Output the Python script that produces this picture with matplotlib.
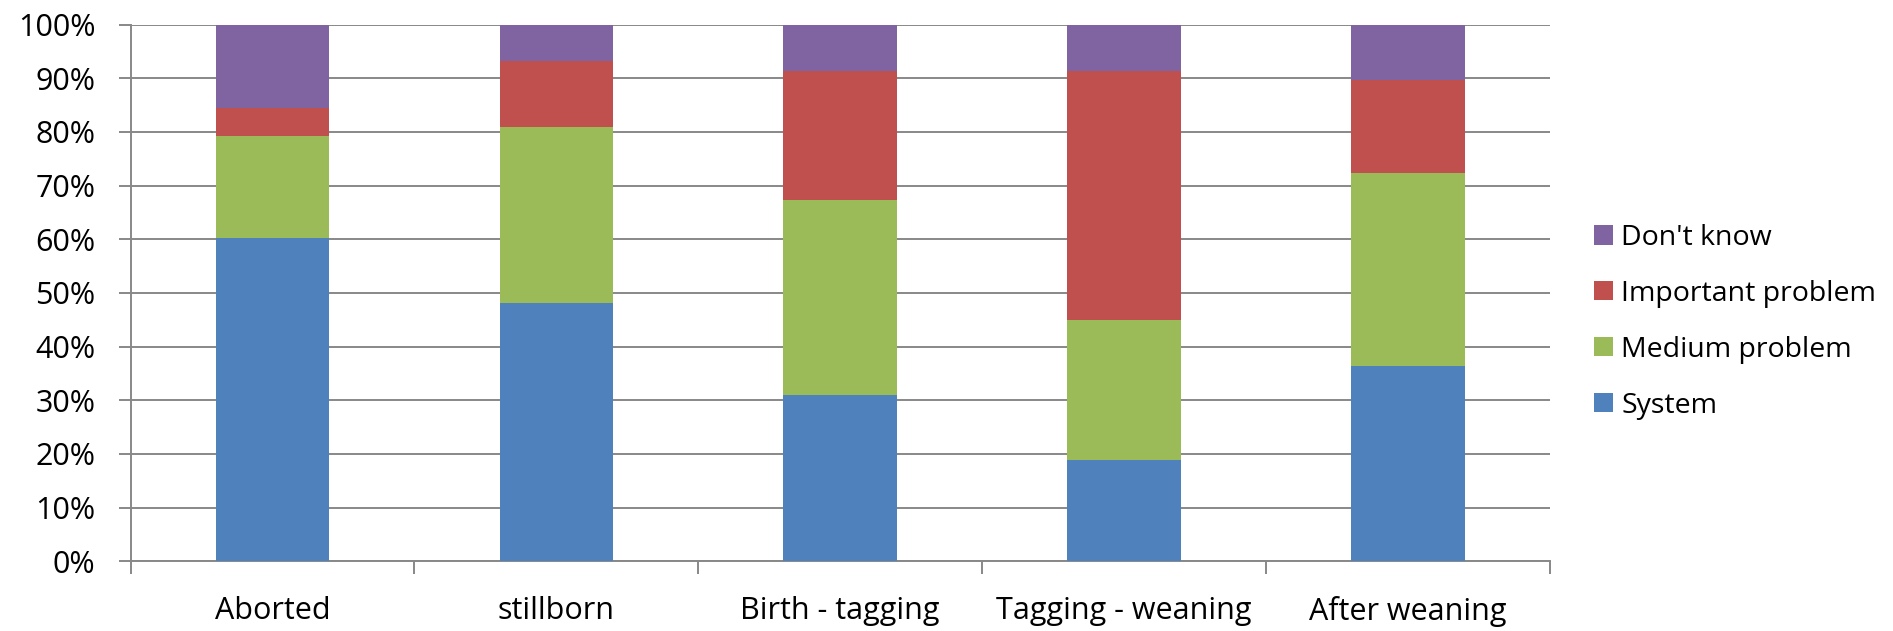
import matplotlib.pyplot as plt
import numpy as np

categories = ["Aborted", "stillborn", "Birth - tagging", "Tagging - weaning", "After weaning"]
system = [60.3, 48.2, 30.9, 18.9, 36.3]
medium = [19.0, 32.8, 36.4, 26.0, 36.1]
important = [5.2, 12.2, 24.1, 46.5, 17.3]
dont_know = [15.5, 6.8, 8.6, 8.6, 10.3]
y_ticks = [0, 10, 20, 30, 40, 50, 60, 70, 80, 90, 100]

plt.rcParams['font.family'] = ['Open Sans', 'DejaVu Sans']
grid_col = "#888888"
fs = 22

fig = plt.figure(figsize=(18.93, 6.31), dpi=100)
ax = fig.add_axes([0.069, 0.1105, 0.7497, 0.8504])

x = np.arange(len(categories))
w = 0.4
series = [("System", system, "#4F81BD"),
          ("Medium problem", medium, "#9BBB59"),
          ("Important problem", important, "#C0504D"),
          ("Don't know", dont_know, "#8064A2")]
bottom = np.zeros(len(categories))
handles = []
for name, vals, col in series:
    b = ax.bar(x, vals, w, bottom=bottom, color=col, label=name, zorder=3)
    handles.append(b)
    bottom += np.array(vals)

ax.set_xlim(-0.5, len(categories) - 0.5)
ax.set_ylim(0, 100)
ax.set_yticks(y_ticks)
ax.set_yticklabels([f"{t}%" for t in y_ticks], fontsize=fs)
ax.yaxis.grid(True, color=grid_col, linewidth=1.4, zorder=0)
ax.tick_params(axis='y', length=8.5, width=1.4, color=grid_col, pad=17)

ax.set_xticks(x)
ax.set_xticklabels(categories, fontsize=fs)
ax.set_xticks(np.arange(-0.5, len(categories)), minor=True)
ax.tick_params(axis='x', which='major', length=0, pad=25)
ax.tick_params(axis='x', which='minor', length=9, width=1.4, color=grid_col)

for s in ["top", "right"]:
    ax.spines[s].set_visible(False)
for s in ["left", "bottom"]:
    ax.spines[s].set_color(grid_col)
    ax.spines[s].set_linewidth(1.4)

fig.legend(handles[::-1], [h.get_label() for h in handles[::-1]],
           loc="center left", bbox_to_anchor=(0.842, 0.49), frameon=False,
           fontsize=20.5, handlelength=0.66, handleheight=0.66, handletextpad=0.3,
           labelspacing=0.98, borderpad=0, borderaxespad=0)

fig.savefig("out.png", dpi=100)
